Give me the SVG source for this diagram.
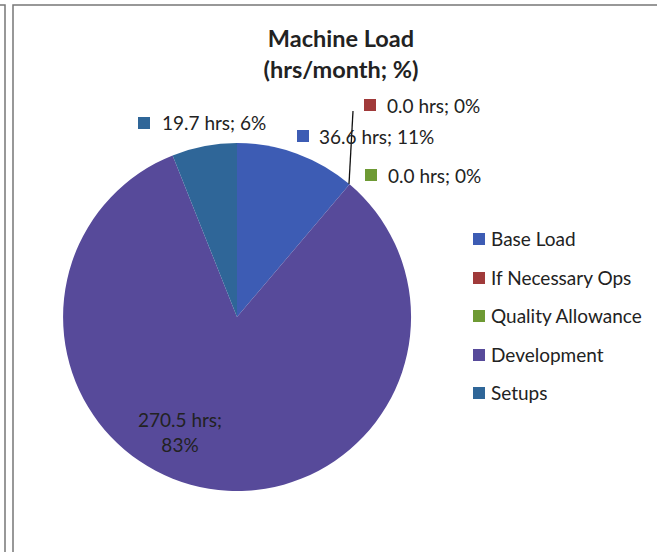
<svg xmlns="http://www.w3.org/2000/svg" width="657" height="552" viewBox="0 0 657 552">
<style>
.t{font-family:"Lato","Liberation Sans",sans-serif;fill:#222}
.title{font-weight:bold;font-size:23.5px;text-anchor:middle}
.lbl{font-size:19px}
.leg{font-size:19px}
.frame{fill:none;stroke:#777;stroke-width:1.5}
</style>
<rect width="657" height="552" fill="#fff"/>
<g id="frame">
<path class="frame" d="M0 5H5V552"/>
<path class="frame" d="M13 552V5H657"/>
</g>
<g id="title">
<text class="t title" x="341" y="47">Machine Load</text>
<text class="t title" x="341" y="78">(hrs/month; %)</text>
</g>
<g id="pie">
<path id="base-load" d="M237 317V143A174 174 0 0 1 349.6 184.3Z" fill="#3d5cb4"/>
<path id="development" d="M237 317L349.6 184.3A174 174 0 1 1 172.6 155.4Z" fill="#574a9a"/>
<path id="setups" d="M237 317L172.6 155.4A174 174 0 0 1 237 143Z" fill="#2f6698"/>
</g>
<g id="connectors">
<path d="M353 111L349 184" stroke="#111" stroke-width="1.3" fill="none"/>
</g>
<g id="labels">
<rect x="138" y="117" width="12" height="12" fill="#2f6698"/>
<text class="t lbl" x="162" y="130">19.7 hrs; 6%</text>
<rect x="297" y="130" width="12" height="12" fill="#3d5cb4"/>
<text class="t lbl" x="319" y="144">36.6 hrs; 11%</text>
<rect x="364" y="99" width="12" height="12" fill="#a03a3a"/>
<text class="t lbl" x="387" y="113">0.0 hrs; 0%</text>
<rect x="365" y="169" width="12" height="12" fill="#6e9a34"/>
<text class="t lbl" x="388" y="183">0.0 hrs; 0%</text>
<text class="t lbl" x="180" y="427" text-anchor="middle" fill="#333">270.5 hrs;</text>
<text class="t lbl" x="180" y="452" text-anchor="middle" fill="#333">83%</text>
</g>
<g id="legend">
<rect x="473" y="233" width="12" height="12" fill="#3d5cb4"/>
<text class="t leg" x="491" y="246">Base Load</text>
<rect x="473" y="272" width="12" height="12" fill="#a03a3a"/>
<text class="t leg" x="491" y="285">If Necessary Ops</text>
<rect x="473" y="310" width="12" height="12" fill="#6e9a34"/>
<text class="t leg" x="491" y="323">Quality Allowance</text>
<rect x="473" y="349" width="12" height="12" fill="#574a9a"/>
<text class="t leg" x="491" y="362">Development</text>
<rect x="473" y="387" width="12" height="12" fill="#2f6698"/>
<text class="t leg" x="491" y="400">Setups</text>
</g>
</svg>
